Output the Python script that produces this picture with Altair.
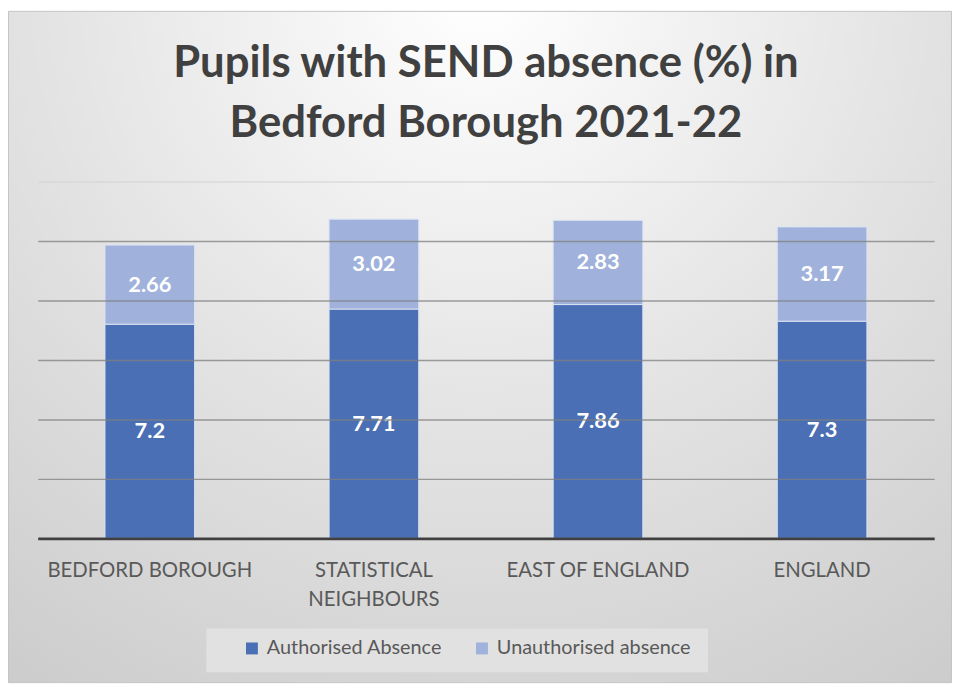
import altair as alt
import pandas as pd

categories = ["BEDFORD BOROUGH", "STATISTICAL NEIGHBOURS", "EAST OF ENGLAND", "ENGLAND"]
authorised = [7.2, 7.71, 7.86, 7.3]
unauthorised = [2.66, 3.02, 2.83, 3.17]
series = ["Authorised Absence", "Unauthorised absence"]
colors = ["#4a6fb5", "#a0b2dc"]
grid_values = [0, 2, 4, 6, 8, 10, 12]

rows = []
for c, a, u in zip(categories, authorised, unauthorised):
    rows.append({"cat": c, "series": series[0], "val": a, "ord": 0, "mid": a / 2})
    rows.append({"cat": c, "series": series[1], "val": u, "ord": 1, "mid": a + u / 2})
df = pd.DataFrame(rows)

FONT = "Lato"
W, H = 904, 360
PAD = {"left": 30, "top": 172, "right": 18, "bottom": 146}

bg_grad = {
    "gradient": "radial",
    "x1": 0.5, "y1": 0.12, "x2": 0.5, "y2": 0.12, "r1": 0, "r2": 1.0,
    "stops": [
        {"offset": 0, "color": "#ffffff"},
        {"offset": 0.45, "color": "#e4e4e4"},
        {"offset": 1, "color": "#c6c6c6"},
    ],
}

one = pd.DataFrame({"k": [0]})
background = alt.Chart(one).mark_rect(fill=bg_grad, stroke="#c4c4c4", strokeWidth=1).encode(
    x=alt.value(-PAD["left"] + 0.5), x2=alt.value(W + PAD["right"] - 0.5),
    y=alt.value(-PAD["top"] + 0.5), y2=alt.value(H + PAD["bottom"] - 0.5),
)
legend_box = alt.Chart(one).mark_rect(fill="#e1e1e1").encode(
    x=alt.value(170), x2=alt.value(676),
    y=alt.value(451), y2=alt.value(495),
)

xenc = alt.X(
    "cat:N", sort=categories, title=None,
    scale=alt.Scale(paddingInner=0.6, paddingOuter=0.3),
    axis=alt.Axis(
        labelAngle=0, labelFont=FONT, labelFontSize=20.5, labelColor="#595959",
        labelPadding=22, labelLineHeight=30, labelBaseline="top", labelLimit=0,
        labelExpr="datum.value == 'STATISTICAL NEIGHBOURS' ? ['STATISTICAL', 'NEIGHBOURS'] : datum.value",
        ticks=False, domainColor="#404040", domainWidth=3, grid=False, zindex=2,
    ),
)

bars = alt.Chart(df).mark_bar(stroke="#dbe3f3", strokeWidth=1).encode(
    x=xenc,
    y=alt.Y(
        "val:Q", stack="zero", title=None,
        scale=alt.Scale(domain=[0, 12], nice=False),
        axis=alt.Axis(
            values=grid_values, labels=False, ticks=False, domain=False, grid=True,
            gridColor=alt.condition("datum.value == 12", alt.value("#d4d4d4"), alt.value("#7f7f7f")),
            gridWidth=1.5, gridOpacity=0.75, zindex=1,
        ),
    ),
    color=alt.Color(
        "series:N", sort=series,
        scale=alt.Scale(domain=series, range=colors),
        legend=alt.Legend(
            title=None, orient="none", legendX=206, legendY=461, direction="horizontal",
            symbolType="square", symbolSize=144, symbolStrokeWidth=0,
            labelFont=FONT, labelFontSize=20, labelColor="#595959", labelLimit=0,
            columnPadding=30, labelOffset=5,
        ),
    ),
    order=alt.Order("ord:Q"),
)

labels = alt.Chart(df).mark_text(
    font=FONT, fontSize=22, fontWeight="bold", color="#ffffff", baseline="middle"
).encode(
    x=alt.X("cat:N", sort=categories),
    y=alt.Y("mid:Q"),
    text=alt.Text("val:Q"),
)

chart = alt.layer(background, legend_box, bars, labels).properties(
    width=W, height=H,
    padding=PAD,
    autosize=alt.AutoSizeParams(type="none"),
    title=alt.Title(
        text=["Pupils with SEND absence (%) in", "Bedford Borough 2021-22"],
        font=FONT, fontSize=44, fontWeight="bold", color="#404040",
        lineHeight=60, anchor="middle", offset=0, dy=136, frame="group",
    ),
).configure_view(stroke=None).configure(background="#ffffff")

chart.save("out.html", embed_options={"renderer": "svg", "actions": False})
